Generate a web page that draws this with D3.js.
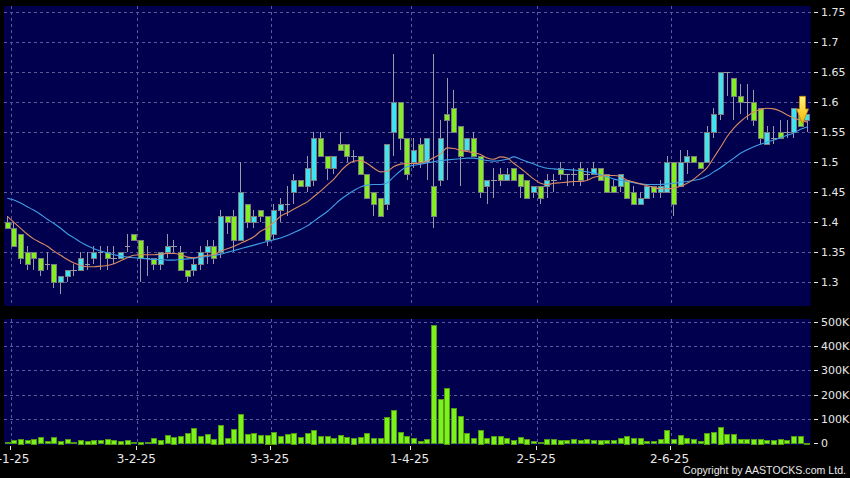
<!DOCTYPE html>
<html><head><meta charset="utf-8">
<script src="https://cdn.jsdelivr.net/npm/d3@7"></script>
<style>html,body{margin:0;padding:0;background:#000;}svg{display:block}</style>
</head><body>
<svg id="c" width="850" height="478"></svg>
<script>
const dates = ["31-12-24",
"2-1-25","3-1-25","6-1-25","7-1-25","8-1-25","9-1-25","10-1-25","13-1-25","14-1-25","15-1-25","16-1-25","17-1-25","20-1-25","21-1-25","22-1-25","23-1-25","24-1-25","27-1-25","28-1-25",
"3-2-25","4-2-25","5-2-25","6-2-25","7-2-25","10-2-25","11-2-25","12-2-25","13-2-25","14-2-25","17-2-25","18-2-25","19-2-25","20-2-25","21-2-25","24-2-25","25-2-25","26-2-25","27-2-25","28-2-25",
"3-3-25","4-3-25","5-3-25","6-3-25","7-3-25","10-3-25","11-3-25","12-3-25","13-3-25","14-3-25","17-3-25","18-3-25","19-3-25","20-3-25","21-3-25","24-3-25","25-3-25","26-3-25","27-3-25","28-3-25","31-3-25",
"1-4-25","2-4-25","3-4-25","7-4-25","8-4-25","9-4-25","10-4-25","11-4-25","14-4-25","15-4-25","16-4-25","17-4-25","22-4-25","23-4-25","24-4-25","25-4-25","28-4-25","29-4-25","30-4-25",
"2-5-25","6-5-25","7-5-25","8-5-25","9-5-25","12-5-25","13-5-25","14-5-25","15-5-25","16-5-25","19-5-25","20-5-25","21-5-25","22-5-25","23-5-25","26-5-25","27-5-25","28-5-25","29-5-25","30-5-25",
"2-6-25","3-6-25","4-6-25","5-6-25","6-6-25","9-6-25","10-6-25","11-6-25","12-6-25","13-6-25","16-6-25","17-6-25","18-6-25","19-6-25","20-6-25","23-6-25","24-6-25","25-6-25","26-6-25","27-6-25","30-6-25"];

const open = [1.40,1.39,1.38,1.35,1.35,1.34,1.33,1.33,1.30,1.31,1.32,1.32,1.33,1.34,1.35,1.35,1.34,1.34,1.36,1.38,
1.37,1.34,1.34,1.33,1.35,1.36,1.35,1.32,1.32,1.33,1.35,1.36,1.35,1.41,1.41,1.37,1.43,1.40,1.42,1.41,
1.38,1.42,1.43,1.45,1.47,1.46,1.47,1.54,1.51,1.49,1.53,1.53,1.51,1.51,1.48,1.45,1.44,1.43,1.55,1.60,
1.54,1.50,1.53,1.50,1.46,1.47,1.58,1.59,1.56,1.52,1.54,1.51,1.46,1.47,1.48,1.47,1.49,1.48,1.47,1.45,
1.46,1.46,1.47,1.49,1.48,1.48,1.49,1.48,1.48,1.49,1.48,1.46,1.46,1.47,1.45,1.43,1.44,1.46,1.45,1.45,
1.50,1.46,1.50,1.51,1.50,1.50,1.55,1.58,1.65,1.64,1.61,1.60,1.60,1.59,1.53,1.54,1.55,1.55,1.55,1.58,1.57];
const high = [1.41,1.40,1.38,1.36,1.35,1.34,1.35,1.33,1.31,1.32,1.33,1.35,1.35,1.36,1.36,1.36,1.36,1.35,1.38,1.38,
1.37,1.36,1.34,1.35,1.38,1.37,1.36,1.32,1.34,1.36,1.37,1.37,1.42,1.41,1.42,1.50,1.43,1.42,1.42,1.41,
1.43,1.44,1.46,1.48,1.47,1.51,1.55,1.55,1.51,1.51,1.55,1.53,1.52,1.51,1.48,1.45,1.44,1.53,1.68,1.60,
1.54,1.54,1.54,1.54,1.68,1.57,1.64,1.62,1.56,1.54,1.55,1.51,1.47,1.49,1.49,1.49,1.49,1.48,1.47,1.46,
1.46,1.48,1.48,1.50,1.48,1.49,1.50,1.49,1.50,1.49,1.48,1.47,1.48,1.47,1.46,1.45,1.46,1.46,1.47,1.51,
1.50,1.52,1.52,1.51,1.50,1.56,1.59,1.65,1.65,1.64,1.63,1.63,1.62,1.59,1.56,1.56,1.57,1.57,1.59,1.58,1.58];
const low = [1.39,1.36,1.33,1.32,1.32,1.31,1.32,1.29,1.28,1.30,1.31,1.32,1.32,1.33,1.32,1.32,1.33,1.34,1.35,1.37,
1.30,1.31,1.32,1.32,1.34,1.35,1.32,1.30,1.31,1.32,1.33,1.33,1.34,1.38,1.35,1.37,1.39,1.39,1.40,1.36,
1.37,1.40,1.41,1.43,1.46,1.45,1.46,1.51,1.47,1.48,1.52,1.50,1.50,1.48,1.44,1.41,1.41,1.42,1.51,1.52,
1.47,1.49,1.49,1.47,1.39,1.46,1.47,1.55,1.46,1.52,1.51,1.44,1.43,1.44,1.46,1.47,1.47,1.44,1.44,1.44,
1.43,1.44,1.45,1.47,1.46,1.46,1.46,1.47,1.48,1.47,1.45,1.45,1.45,1.44,1.43,1.43,1.44,1.44,1.44,1.45,
1.41,1.46,1.48,1.50,1.49,1.50,1.54,1.57,1.61,1.57,1.58,1.57,1.56,1.53,1.53,1.53,1.54,1.54,1.54,1.56,1.55];
const close = [1.39,1.36,1.34,1.33,1.34,1.32,1.33,1.30,1.31,1.32,1.32,1.34,1.33,1.35,1.35,1.34,1.34,1.35,1.36,1.37,
1.34,1.34,1.33,1.35,1.36,1.36,1.32,1.31,1.33,1.35,1.36,1.34,1.41,1.40,1.37,1.45,1.40,1.41,1.41,1.37,
1.42,1.43,1.43,1.47,1.46,1.49,1.54,1.51,1.49,1.51,1.52,1.51,1.51,1.48,1.44,1.43,1.41,1.53,1.60,1.54,
1.48,1.52,1.50,1.54,1.41,1.54,1.57,1.55,1.51,1.54,1.51,1.45,1.47,1.47,1.47,1.48,1.47,1.46,1.44,1.46,
1.44,1.47,1.47,1.48,1.48,1.48,1.47,1.48,1.49,1.47,1.45,1.45,1.48,1.44,1.43,1.44,1.46,1.45,1.46,1.50,
1.43,1.50,1.51,1.50,1.49,1.55,1.58,1.65,1.65,1.61,1.60,1.60,1.57,1.54,1.55,1.54,1.54,1.55,1.59,1.56,1.58];
// volume in thousands of shares
const volume = [5,14,19,14,19,26,10,25,11,18,5,15,11,16,12,19,16,11,15,4,
7,4,22,15,34,27,29,41,63,29,38,19,77,22,58,119,37,41,33,36,
48,30,38,44,25,42,56,29,29,21,34,26,23,26,42,21,22,107,136,47,
29,22,8,18,486,182,229,144,112,42,22,57,22,32,32,22,15,26,20,8,
4,19,19,15,12,17,13,18,14,16,14,14,22,32,21,23,10,10,17,55,
17,35,22,17,10,44,47,68,38,38,18,18,20,20,12,16,20,12,30,30,3];
const maShort = [1.410,1.400,1.390,1.380,1.372,1.366,1.360,1.352,1.345,1.338,1.332,1.328,1.326,1.326,1.327,1.328,1.331,1.336,1.341,1.345,
1.346,1.346,1.346,1.347,1.348,1.348,1.346,1.342,1.341,1.343,1.345,1.346,1.352,1.356,1.360,1.365,1.370,1.376,1.385,1.391,
1.400,1.410,1.416,1.422,1.428,1.434,1.443,1.452,1.462,1.472,1.485,1.496,1.502,1.503,1.498,1.490,1.484,1.485,1.493,1.497,
1.498,1.498,1.499,1.502,1.508,1.514,1.524,1.523,1.520,1.518,1.516,1.513,1.507,1.505,1.509,1.507,1.498,1.490,1.481,1.472,
1.465,1.463,1.465,1.466,1.467,1.468,1.468,1.470,1.475,1.477,1.478,1.478,1.476,1.470,1.467,1.464,1.461,1.458,1.456,1.456,
1.457,1.460,1.465,1.472,1.481,1.491,1.508,1.525,1.543,1.557,1.568,1.577,1.584,1.588,1.590,1.589,1.585,1.579,1.574,1.570,1.567];
const maLong = [1.440,1.437,1.432,1.426,1.420,1.413,1.405,1.398,1.390,1.381,1.374,1.367,1.361,1.356,1.352,1.349,1.346,1.344,1.342,1.341,
1.340,1.339,1.338,1.338,1.337,1.337,1.338,1.339,1.340,1.342,1.343,1.345,1.347,1.350,1.353,1.356,1.359,1.362,1.365,1.368,
1.371,1.374,1.378,1.383,1.388,1.394,1.402,1.410,1.418,1.428,1.438,1.446,1.453,1.459,1.462,1.463,1.463,1.466,1.476,1.486,
1.493,1.495,1.497,1.499,1.501,1.503,1.504,1.505,1.506,1.507,1.507,1.505,1.503,1.502,1.503,1.505,1.509,1.505,1.501,1.497,
1.493,1.490,1.489,1.488,1.488,1.487,1.486,1.484,1.482,1.479,1.476,1.472,1.470,1.468,1.466,1.464,1.463,1.463,1.463,1.464,
1.465,1.467,1.468,1.470,1.472,1.477,1.484,1.491,1.499,1.507,1.515,1.521,1.526,1.530,1.534,1.537,1.541,1.545,1.549,1.555,1.559];
const xTickLabels = ["2-1-25","3-2-25","3-3-25","1-4-25","2-5-25","2-6-25"];
const priceTicks = [1.3,1.35,1.4,1.45,1.5,1.55,1.6,1.65,1.7,1.75];
const volTicks = [0,100,200,300,400,500];
const volTickLabels = ["0","100K","200K","300K","400K","500K"];
const markerDate = "27-6-25";

const svg = d3.select("#c");
const plotL = 4, plotR = 810.5;
const pTop = 6, pBot = 306, vTop = 319, vBot = 445;
const NAVY = "#00004e", GRID = "#5a5a96", TXT = "#e8e8e8";
const CYAN = "#3fe3f2", GREEN = "#84ee22", VOL = "#7cf21a";

const x = d3.scaleBand().domain(dates).range([plotL, plotR]).paddingInner(0.17).paddingOuter(0.085);
const step = x.step(), bw = x.bandwidth();
const cx = d => x(d) + bw / 2;
const edge = d => cx(d) - step / 2;
const y = d3.scaleLinear().domain([1.3, 1.75]).range([282.3, 12.3]);
const yv = d3.scaleLinear().domain([0, 500]).range([443.4, 321.7]);

svg.append("rect").attr("width", 850).attr("height", 478).attr("fill", "#000");
svg.append("rect").attr("x", plotL).attr("y", pTop).attr("width", plotR - plotL).attr("height", pBot - pTop).attr("fill", NAVY);
svg.append("rect").attr("x", plotL).attr("y", vTop).attr("width", plotR - plotL).attr("height", vBot - vTop).attr("fill", NAVY);

const grid = svg.append("g").attr("stroke", GRID).attr("stroke-dasharray", "3,3").attr("stroke-width", 1).attr("shape-rendering", "crispEdges");
grid.selectAll(".hp").data(priceTicks).join("line")
  .attr("x1", plotL).attr("x2", plotR).attr("y1", d => Math.round(y(d)) + 0.5).attr("y2", d => Math.round(y(d)) + 0.5);
grid.selectAll(".hv").data(volTicks.filter(v => v > 0)).join("line")
  .attr("x1", plotL).attr("x2", plotR).attr("y1", d => Math.round(yv(d)) + 0.5).attr("y2", d => Math.round(yv(d)) + 0.5);
grid.selectAll(".vp").data(xTickLabels).join("line")
  .attr("x1", d => Math.round(edge(d)) + 0.5).attr("x2", d => Math.round(edge(d)) + 0.5).attr("y1", pTop).attr("y2", pBot);
grid.selectAll(".vv").data(xTickLabels).join("line")
  .attr("x1", d => Math.round(edge(d)) + 0.5).attr("x2", d => Math.round(edge(d)) + 0.5).attr("y1", vTop).attr("y2", vBot);

// candles
const idx = d3.range(dates.length);
const cg = svg.append("g").attr("shape-rendering", "crispEdges");
cg.selectAll(".wick").data(idx).join("line")
  .attr("x1", i => Math.floor(cx(dates[i])) + 0.5).attr("x2", i => Math.floor(cx(dates[i])) + 0.5)
  .attr("y1", i => y(high[i])).attr("y2", i => y(low[i]))
  .attr("stroke", "#9a9aa6").attr("stroke-width", 1);
cg.selectAll(".body").data(idx.filter(i => open[i] !== close[i])).join("rect")
  .attr("x", i => Math.round(x(dates[i])) + 0.5)
  .attr("y", i => Math.round(y(Math.max(open[i], close[i]))) + 0.5)
  .attr("width", Math.round(bw) - 1)
  .attr("height", i => Math.max(1, Math.round(Math.abs(y(open[i]) - y(close[i])))))
  .attr("fill", i => close[i] > open[i] ? CYAN : GREEN)
  .attr("stroke", "#7c7c7c").attr("stroke-width", 1);
cg.selectAll(".doji").data(idx.filter(i => open[i] === close[i])).join("line")
  .attr("x1", i => Math.round(x(dates[i]))).attr("x2", i => Math.round(x(dates[i]) + bw))
  .attr("y1", i => Math.round(y(open[i])) + 0.5).attr("y2", i => Math.round(y(open[i])) + 0.5)
  .attr("stroke", "#9a9aa6").attr("stroke-width", 1);

// moving averages
const line = arr => d3.line().x((d, i) => cx(dates[i])).y(d => y(d)).curve(d3.curveMonotoneX)(arr);
svg.append("path").attr("d", line(maLong)).attr("fill", "none").attr("stroke", "#3f9fe6").attr("stroke-width", 1.1);
svg.append("path").attr("d", line(maShort)).attr("fill", "none").attr("stroke", "#d98a62").attr("stroke-width", 1.1);

// marker arrow
const ax = cx(markerDate) + 2, aTop = y(1.61), aMid = y(1.589), aTip = y(1.564);
svg.append("defs").html('<linearGradient id="ag" x1="0" x2="0" y1="0" y2="1"><stop offset="0" stop-color="#fff27a"/><stop offset="1" stop-color="#f4b800"/></linearGradient>');
svg.append("path")
  .attr("d", `M${ax-3},${aTop} L${ax+3},${aTop} L${ax+3},${aMid} L${ax+6},${aMid} L${ax},${aTip} L${ax-6},${aMid} L${ax-3},${aMid} Z`)
  .attr("fill", "url(#ag)").attr("stroke", "#c88a00").attr("stroke-width", 0.8);

// volume
svg.append("g").attr("shape-rendering", "crispEdges").selectAll("rect").data(idx).join("rect")
  .attr("x", i => Math.round(x(dates[i])) + 0.5)
  .attr("y", i => Math.round(yv(volume[i])) + 0.5)
  .attr("width", Math.round(bw) - 1)
  .attr("height", i => Math.max(0.5, Math.round(yv(0) - yv(volume[i])) - 0.5))
  .attr("fill", VOL).attr("stroke", "#4f9a12").attr("stroke-width", 1);

// right axes
const ax1 = svg.append("g").attr("font-family", "DejaVu Sans, Verdana, sans-serif").attr("font-size", 11).attr("fill", TXT);
ax1.selectAll(".pt").data(priceTicks).join("text")
  .attr("x", 821).attr("y", d => y(d)).attr("dy", "0.36em").text(d => d3.format("~g")(d));
ax1.selectAll(".vt").data(volTicks).join("text")
  .attr("x", 821).attr("y", d => yv(d)).attr("dy", "0.36em").text((d, i) => volTickLabels[i]);
const tk = svg.append("g").attr("stroke", TXT).attr("stroke-width", 1).attr("shape-rendering", "crispEdges");
tk.selectAll(".a").data(priceTicks).join("line").attr("x1", 814).attr("x2", 818).attr("y1", d => Math.round(y(d)) + 0.5).attr("y2", d => Math.round(y(d)) + 0.5);
tk.selectAll(".b").data(volTicks).join("line").attr("x1", 814).attr("x2", 818).attr("y1", d => Math.round(yv(d)) + 0.5).attr("y2", d => Math.round(yv(d)) + 0.5);
tk.selectAll(".c").data(xTickLabels).join("line").attr("x1", d => Math.round(edge(d) - 1) + 0.5).attr("x2", d => Math.round(edge(d) - 1) + 0.5).attr("y1", 446).attr("y2", 450);

svg.append("g").attr("font-family", "DejaVu Sans, Verdana, sans-serif").attr("font-size", 12).attr("fill", TXT)
  .selectAll("text").data(xTickLabels).join("text")
  .attr("x", d => edge(d) - 1).attr("y", 462.5).attr("text-anchor", "middle").text(d => d);

svg.append("text").attr("x", 846).attr("y", 474).attr("text-anchor", "end")
  .attr("font-family", "Liberation Sans, Arial, sans-serif").attr("font-size", 10.6)
  .attr("fill", TXT)
  .text("Copyright by AASTOCKS.com Ltd.");
</script>
</body></html>
